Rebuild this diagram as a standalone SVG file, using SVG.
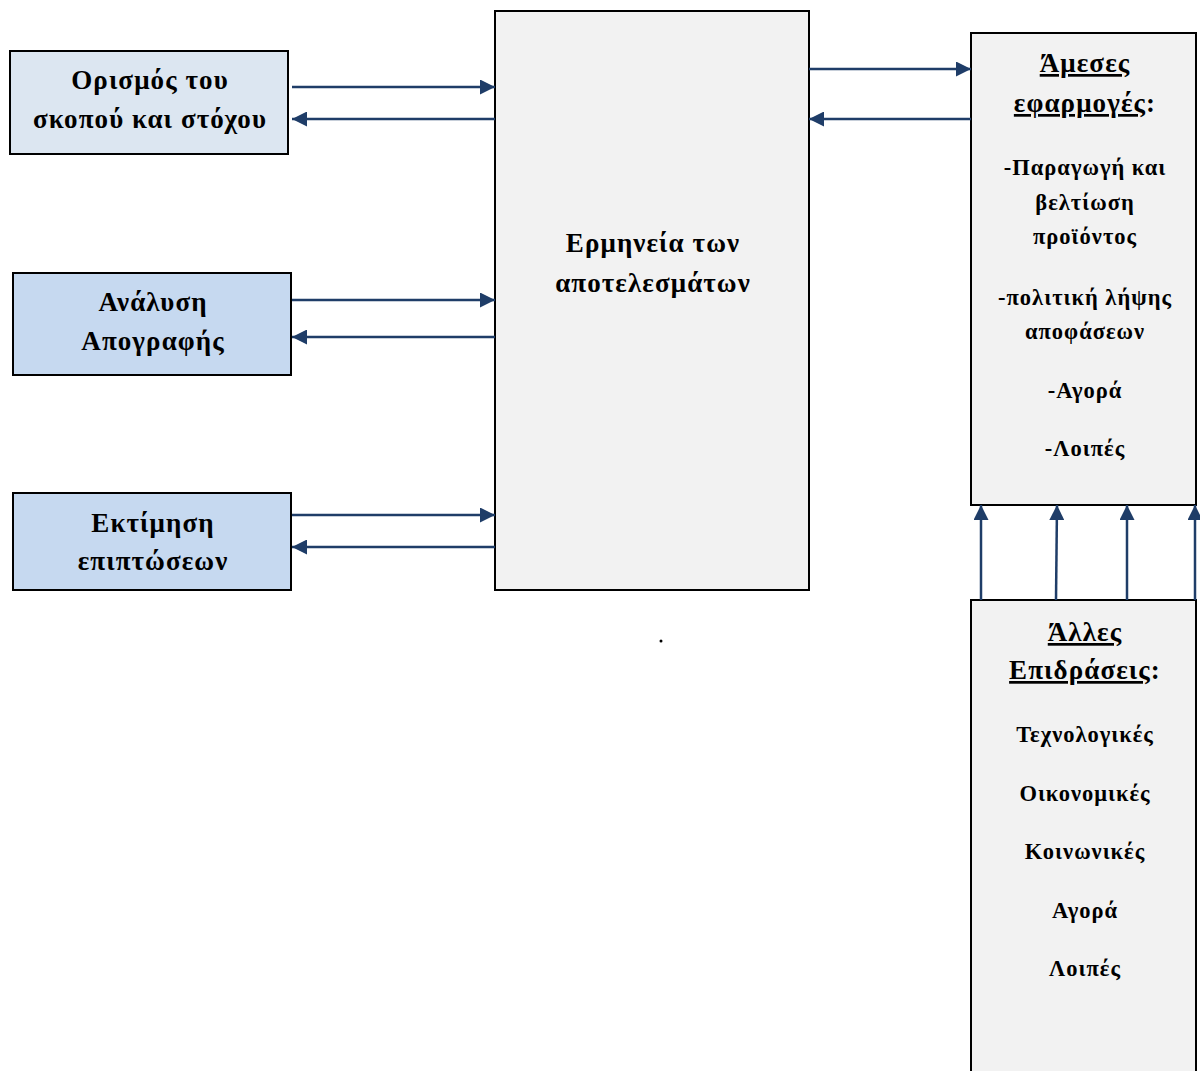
<svg xmlns="http://www.w3.org/2000/svg" width="1200" height="1071" viewBox="0 0 1200 1071">
  <style>
    .box { stroke: #000; stroke-width: 2; }
    .blue1 { fill: #dce6f1; }
    .blue2 { fill: #c6d9f0; }
    .grey { fill: #f2f2f2; }
    text { font-family: "Liberation Serif", "Times New Roman", serif; font-weight: bold; fill: #000; text-anchor: middle; }
    .big { font-size: 27px; letter-spacing: 1.1px; }
    .mid { font-size: 22.5px; letter-spacing: 1px; }
    .ul { text-decoration: underline; }
    .conn line { stroke: #1f3d68; stroke-width: 2.5; }
  </style>
  <defs>
    <marker id="arrow" viewBox="0 0 10 10" refX="10" refY="5" markerWidth="6.4" markerHeight="6" markerUnits="strokeWidth" orient="auto">
      <path d="M0,0 L10,5 L0,10 Z" fill="#1f3d68"/>
    </marker>
  </defs>

  <!-- Left-hand stages -->
  <g id="node-goal">
    <rect class="box blue1" x="10" y="51" width="278" height="103"/>
    <text class="big" x="150" y="89">Ορισμός του</text>
    <text class="big" x="150" y="128">σκοπού και στόχου</text>
  </g>
  <g id="node-inventory">
    <rect class="box blue2" x="13" y="273" width="278" height="102"/>
    <text class="big" x="153" y="311">Ανάλυση</text>
    <text class="big" x="153" y="350">Απογραφής</text>
  </g>
  <g id="node-impact">
    <rect class="box blue2" x="13" y="493" width="278" height="97"/>
    <text class="big" x="153" y="532">Εκτίμηση</text>
    <text class="big" x="153" y="570">επιπτώσεων</text>
  </g>

  <!-- Central interpretation block -->
  <g id="node-interpretation">
    <rect class="box grey" x="495" y="11" width="314" height="579"/>
    <text class="big" x="653" y="252">Ερμηνεία των</text>
    <text class="big" x="653" y="292">αποτελεσμάτων</text>
  </g>

  <!-- Direct applications -->
  <g id="node-applications">
    <rect class="box grey" x="971" y="33" width="225" height="472"/>
    <text class="big ul" x="1085" y="72">Άμεσες</text>
    <text class="big" x="1085" y="112"><tspan class="ul">εφαρμογές</tspan>:</text>
    <text class="mid" x="1085" y="175">-Παραγωγή και</text>
    <text class="mid" x="1085" y="210">βελτίωση</text>
    <text class="mid" x="1085" y="244">προϊόντος</text>
    <text class="mid" x="1085" y="305">-πολιτική λήψης</text>
    <text class="mid" x="1085" y="339">αποφάσεων</text>
    <text class="mid" x="1085" y="398">-Αγορά</text>
    <text class="mid" x="1085" y="456">-Λοιπές</text>
  </g>

  <!-- Other influences -->
  <g id="node-influences">
    <rect class="box grey" x="971" y="600" width="225" height="480"/>
    <text class="big ul" x="1085" y="641">Άλλες</text>
    <text class="big" x="1085" y="679"><tspan class="ul">Επιδράσεις</tspan>:</text>
    <text class="mid" x="1085" y="742">Τεχνολογικές</text>
    <text class="mid" x="1085" y="801">Οικονομικές</text>
    <text class="mid" x="1085" y="859">Κοινωνικές</text>
    <text class="mid" x="1085" y="918">Αγορά</text>
    <text class="mid" x="1085" y="976">Λοιπές</text>
  </g>

  <!-- Connectors -->
  <g id="connectors" class="conn">
    <line x1="292" y1="87" x2="495" y2="87" marker-end="url(#arrow)"/>
    <line x1="495" y1="119" x2="292" y2="119" marker-end="url(#arrow)"/>
    <line x1="292" y1="300" x2="495" y2="300" marker-end="url(#arrow)"/>
    <line x1="495" y1="337" x2="292" y2="337" marker-end="url(#arrow)"/>
    <line x1="292" y1="515" x2="495" y2="515" marker-end="url(#arrow)"/>
    <line x1="495" y1="547" x2="292" y2="547" marker-end="url(#arrow)"/>
    <line x1="809" y1="69" x2="971" y2="69" marker-end="url(#arrow)"/>
    <line x1="971" y1="119" x2="809" y2="119" marker-end="url(#arrow)"/>
    <line x1="981" y1="600" x2="981" y2="505" marker-end="url(#arrow)"/>
    <line x1="1056" y1="600" x2="1057" y2="505" marker-end="url(#arrow)"/>
    <line x1="1127" y1="600" x2="1127" y2="505" marker-end="url(#arrow)"/>
    <line x1="1195" y1="600" x2="1195" y2="505" marker-end="url(#arrow)"/>
  </g>

  <circle cx="661" cy="641" r="1.5" fill="#000"/>
</svg>
